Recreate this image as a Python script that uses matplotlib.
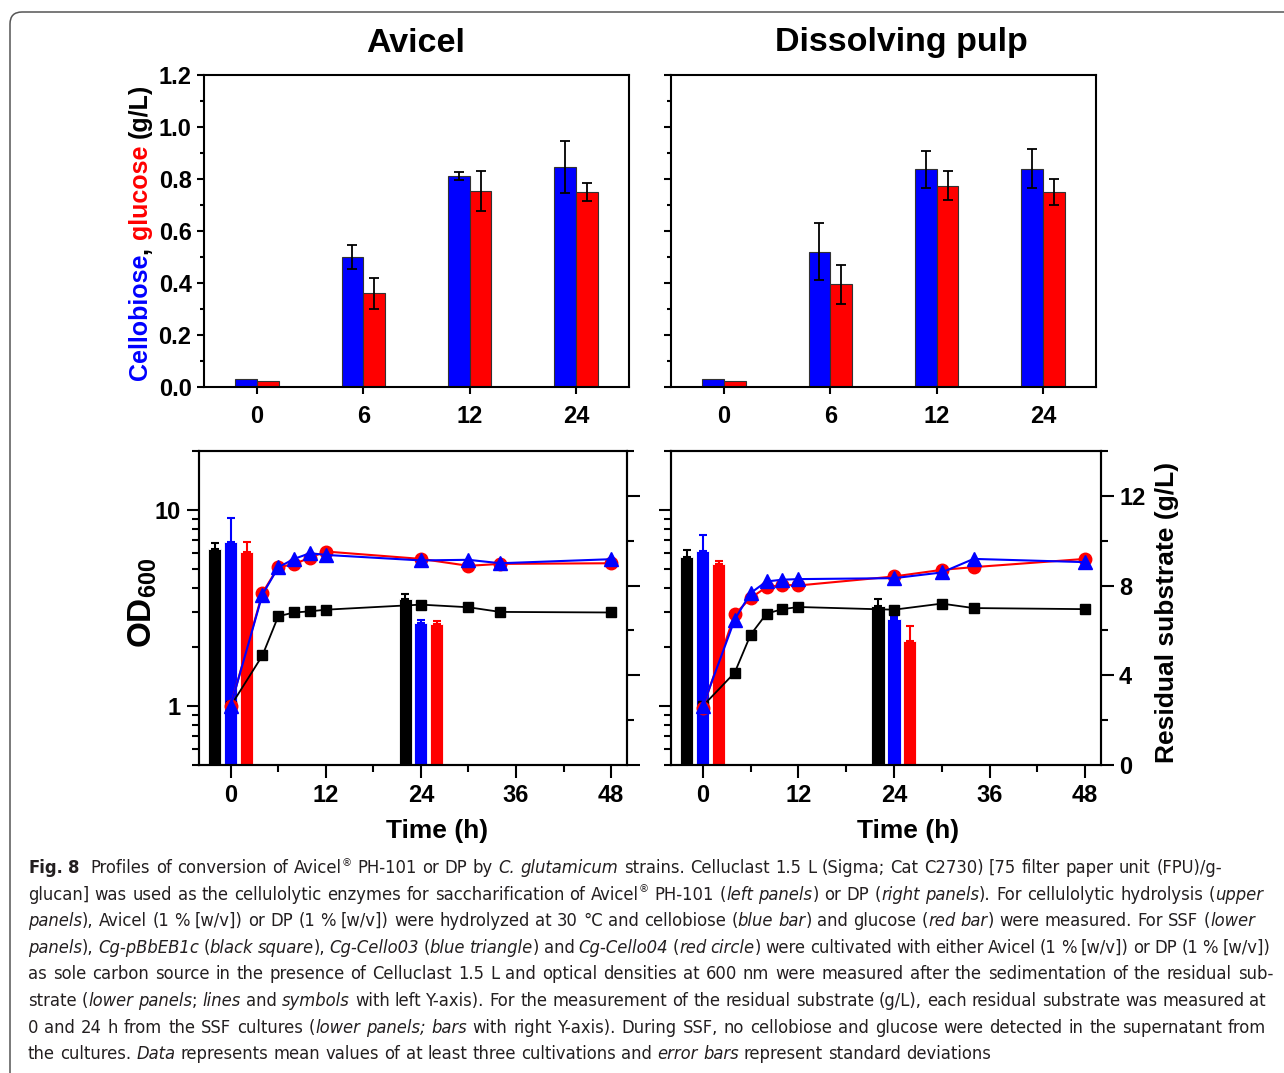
import numpy as np
import matplotlib
matplotlib.use('Agg')
import matplotlib.pyplot as plt
from matplotlib.patches import FancyBboxPatch
from matplotlib.transforms import IdentityTransform
from matplotlib.ticker import (FixedLocator, LogLocator, NullFormatter,
                               MultipleLocator, FormatStrFormatter, FuncFormatter)

W, H = 1284, 1073

# upper panels: enzymatic hydrolysis (g/L)
hyd_times = ['0', '6', '12', '24']
avicel_cellobiose = [0.031, 0.50, 0.813, 0.847]
avicel_cellobiose_sd = [0.0, 0.045, 0.015, 0.099]
avicel_glucose = [0.022, 0.36, 0.754, 0.75]
avicel_glucose_sd = [0.0, 0.06, 0.078, 0.033]
dp_cellobiose = [0.032, 0.521, 0.838, 0.84]
dp_cellobiose_sd = [0.0, 0.11, 0.071, 0.076]
dp_glucose = [0.022, 0.395, 0.775, 0.75]
dp_glucose_sd = [0.0, 0.076, 0.057, 0.049]

# lower panels: SSF growth (OD600)
ssf_time = [0, 4, 6, 8, 10, 12, 24, 30, 34, 48]
avicel_pbb = [1.0, 1.81, 2.87, 3.0, 3.04, 3.10, 3.29, 3.19, 3.02, 3.0]
avicel_cello03 = [1.0, 3.70, 5.10, 5.63, 6.02, 5.90, 5.53, 5.57, 5.35, 5.61]
avicel_cello04 = [1.0, 3.77, 5.11, 5.29, 5.72, 6.14, 5.63, 5.19, 5.31, 5.35]
dp_pbb = [1.0, 1.48, 2.31, 2.96, 3.12, 3.20, 3.10, 3.33, 3.16, 3.12]
dp_cello03 = [1.0, 2.76, 3.77, 4.32, 4.41, 4.44, 4.49, 4.80, 5.63, 5.42]
dp_cello04 = [0.98, 2.93, 3.56, 4.04, 4.15, 4.12, 4.58, 4.95, 5.11, 5.63]

# residual substrate (g/L), sampled at 0 and 24 h
res_time = [0, 24]
avicel_res_pbb = [9.63, 7.38]
avicel_res_pbb_sd = [0.25, 0.25]
avicel_res_cello03 = [9.93, 6.33]
avicel_res_cello03_sd = [1.1, 0.15]
avicel_res_cello04 = [9.48, 6.30]
avicel_res_cello04_sd = [0.47, 0.14]
dp_res_pbb = [9.29, 7.08]
dp_res_pbb_sd = [0.3, 0.3]
dp_res_cello03 = [9.56, 6.52]
dp_res_cello03_sd = [0.71, 0.1]
dp_res_cello04 = [8.96, 5.51]
dp_res_cello04_sd = [0.15, 0.67]

caption = [
    [('Fig. 8', 'b'), ('  Profiles of conversion of Avicel', 'n'), ('®', 's'),
     (' PH-101 or DP by ', 'n'), ('C. glutamicum', 'i'),
     (' strains. Celluclast 1.5 L (Sigma; Cat C2730) [75 filter paper unit (FPU)/g-', 'n')],
    [('glucan] was used as the cellulolytic enzymes for saccharification of Avicel', 'n'), ('®', 's'),
     (' PH-101 (', 'n'), ('left panels', 'i'), (') or DP (', 'n'), ('right panels', 'i'),
     ('). For cellulolytic hydrolysis (', 'n'), ('upper', 'i')],
    [('panels', 'i'), ('), Avicel (1 % [w/v]) or DP (1 % [w/v]) were hydrolyzed at 30 °C and cellobiose (', 'n'),
     ('blue bar', 'i'), (') and glucose (', 'n'), ('red bar', 'i'), (') were measured. For SSF (', 'n'),
     ('lower', 'i')],
    [('panels', 'i'), ('), ', 'n'), ('Cg-pBbEB1c', 'i'), (' (', 'n'), ('black square', 'i'), ('), ', 'n'),
     ('Cg-Cello03', 'i'), (' (', 'n'), ('blue triangle', 'i'), (') and ', 'n'), ('Cg-Cello04', 'i'),
     (' (', 'n'), ('red circle', 'i'),
     (') were cultivated with either Avicel (1 % [w/v]) or DP (1 % [w/v])', 'n')],
    [('as sole carbon source in the presence of Celluclast 1.5 L and optical densities at 600 nm were '
      'measured after the sedimentation of the residual sub-', 'n')],
    [('strate (', 'n'), ('lower panels', 'i'), ('; ', 'n'), ('lines', 'i'), (' and ', 'n'), ('symbols', 'i'),
     (' with left Y-axis). For the measurement of the residual substrate (g/L), each residual substrate '
      'was measured at', 'n')],
    [('0 and 24 h from the SSF cultures (', 'n'), ('lower panels; bars', 'i'),
     (' with right Y-axis). During SSF, no cellobiose and glucose were detected in the supernatant from', 'n')],
    [('the cultures. ', 'n'), ('Data', 'i'), (' represents mean values of at least three cultivations and ', 'n'),
     ('error bars', 'i'), (' represent standard deviations', 'n')],
]
caption_right = [1222, 1263, 1255, 1270, 1273, 1266, 1266, None]

BLUE = '#0000ff'
RED = '#ff0000'

plt.rcParams['font.family'] = ['Liberation Sans', 'DejaVu Sans']
plt.rcParams['font.weight'] = 'bold'
plt.rcParams['mathtext.fontset'] = 'custom'
plt.rcParams['mathtext.bf'] = 'Liberation Sans:bold'
plt.rcParams['mathtext.rm'] = 'Liberation Sans:bold'
plt.rcParams['axes.linewidth'] = 1.5

fig = plt.figure(figsize=(W / 100, H / 100), dpi=100)
renderer = fig.canvas.get_renderer()


def rect(left, top, right, bottom):
    return [left / W, 1 - bottom / H, (right - left) / W, (bottom - top) / H]


def adv(s, **kw):
    # pen advance of s, measured between two bars so spaces count
    a = fig.text(0, 0, '|' + s + '|', **kw)
    b = fig.text(0, 0, '||', **kw)
    w = a.get_window_extent(renderer).width - b.get_window_extent(renderer).width
    a.remove()
    b.remove()
    return w


def hydrolysis_panel(ax, cello, cello_sd, gluc, gluc_sd, labels):
    x = np.arange(len(hyd_times))
    bw = 0.205
    ax.bar(x - bw / 2, cello, bw, color=BLUE, edgecolor='#333333', linewidth=0.8)
    ax.bar(x + bw / 2, gluc, bw, color=RED, edgecolor='#333333', linewidth=0.8)
    for xs, v, e in ((x - bw / 2, cello, cello_sd), (x + bw / 2, gluc, gluc_sd)):
        m = np.array(e) > 0
        ax.errorbar(xs[m], np.array(v)[m], yerr=np.array(e)[m], fmt='none',
                    ecolor='black', elinewidth=1.3, capsize=3.5, capthick=1.3)
    ax.set_xlim(-0.5, 3.5)
    ax.set_ylim(0, 1.2)
    ax.set_xticks(x)
    ax.set_xticklabels(hyd_times)
    ax.yaxis.set_major_locator(MultipleLocator(0.2))
    ax.yaxis.set_minor_locator(MultipleLocator(0.1))
    ax.yaxis.set_major_formatter(FormatStrFormatter('%.1f'))
    ax.tick_params(which='major', direction='out', length=5, width=1.5, labelsize=17)
    ax.tick_params(axis='y', which='minor', direction='out', length=3, width=1.5)
    ax.tick_params(axis='x', pad=8)
    ax.tick_params(axis='y', pad=4, labelleft=labels)


def ssf_panel(ax, pbb, c03, c04, res, left_labels, right_labels):
    ax2 = ax.twinx()
    t = np.array(res_time)
    for off, (vals, sd), col in zip((-2, 0, 2), res, ('black', BLUE, RED)):
        ax2.bar(t + off, vals, 1.65, color=col, edgecolor='white', linewidth=0.6)
        ax2.errorbar(t + off, vals, yerr=[np.zeros(len(vals)), sd], fmt='none',
                     ecolor=col, elinewidth=1.5, capsize=3, capthick=1.5)
    ax.plot(ssf_time, pbb, '-s', color='black', ms=7.5, lw=1.3)
    ax.plot(ssf_time, c04, '-o', color=RED, ms=9, lw=1.5)
    ax.plot(ssf_time, c03, '-^', color=BLUE, ms=10.5, lw=1.5)
    ax.set_zorder(ax2.get_zorder() + 1)
    ax.patch.set_visible(False)

    ax.set_yscale('log')
    ax.set_ylim(0.5, 20)
    ax.set_xlim(-4, 50)
    ax.yaxis.set_major_locator(FixedLocator([1, 10]))
    ax.yaxis.set_major_formatter(FuncFormatter(lambda v, p: f'{v:g}'))
    ax.yaxis.set_minor_locator(LogLocator(base=10, subs=np.arange(2, 10)))
    ax.yaxis.set_minor_formatter(NullFormatter())
    ax.set_xticks([0, 12, 24, 36, 48])
    ax.set_xticks([6, 18, 30, 42], minor=True)
    ax.tick_params(which='major', direction='out', length=9, width=1.5, labelsize=17)
    ax.tick_params(which='minor', direction='out', length=5, width=1.5)
    ax.tick_params(axis='x', pad=5)
    ax.tick_params(axis='y', pad=4, labelleft=left_labels)

    ax2.set_ylim(0, 14)
    ax2.yaxis.set_major_locator(MultipleLocator(4))
    ax2.yaxis.set_minor_locator(MultipleLocator(2))
    ax2.tick_params(which='major', direction='out', length=9, width=1.5, labelsize=17, pad=4)
    ax2.tick_params(which='minor', direction='out', length=5, width=1.5)
    ax2.tick_params(axis='y', labelright=right_labels)


ax_ul = fig.add_axes(rect(204, 75, 629, 387))
ax_ur = fig.add_axes(rect(671, 75, 1096, 387))
ax_ll = fig.add_axes(rect(199, 451, 627, 765))
ax_lr = fig.add_axes(rect(671, 451, 1101, 765))

hydrolysis_panel(ax_ul, avicel_cellobiose, avicel_cellobiose_sd, avicel_glucose, avicel_glucose_sd, True)
hydrolysis_panel(ax_ur, dp_cellobiose, dp_cellobiose_sd, dp_glucose, dp_glucose_sd, False)

ssf_panel(ax_ll, avicel_pbb, avicel_cello03, avicel_cello04,
          [(avicel_res_pbb, avicel_res_pbb_sd), (avicel_res_cello03, avicel_res_cello03_sd),
           (avicel_res_cello04, avicel_res_cello04_sd)], True, False)
ssf_panel(ax_lr, dp_pbb, dp_cello03, dp_cello04,
          [(dp_res_pbb, dp_res_pbb_sd), (dp_res_cello03, dp_res_cello03_sd),
           (dp_res_cello04, dp_res_cello04_sd)], False, True)

# titles and axis labels
fig.text(416 / W, 1 - 43 / H, 'Avicel', ha='center', va='center', fontsize=24.5)
fig.text(901 / W, 1 - 43 / H, 'Dissolving pulp', ha='center', va='center', fontsize=24.5)
fig.text(437 / W, 1 - 831 / H, 'Time (h)', ha='center', va='center', fontsize=19)
fig.text(908 / W, 1 - 831 / H, 'Time (h)', ha='center', va='center', fontsize=19)
fig.text(1167 / W, 1 - 612 / H, 'Residual substrate (g/L)', ha='center', va='center',
         rotation=90, fontsize=19)
fig.text(143 / W, 1 - 603 / H, r'$\mathbf{OD}_{\mathbf{600}}$', ha='center', va='center',
         rotation=90, fontsize=24)

# two-coloured y label of the upper panels
lab_parts = [('Cellobiose', BLUE), (',', 'black'), ('glucose', RED), ('(g/L)', 'black')]
full = 'Cellobiose, glucose (g/L)'
lab_size = 18
pos = 0
for text, col in lab_parts:
    i = full.index(text, pos)
    off = adv(full[:i], fontsize=lab_size)
    pos = i + len(text)
    fig.text(147 / W, 1 - (380 - off) / H, text, color=col, fontsize=lab_size,
             rotation=90, rotation_mode='anchor', ha='left', va='baseline')

# rounded frame
frame = FancyBboxPatch((10, -30), W + 40, H + 30 - 12, boxstyle='round,pad=0,rounding_size=12',
                       transform=IdentityTransform(), facecolor='none', edgecolor='#555555', linewidth=1.1)
fig.add_artist(frame)

# caption, condensed sans with justified lines
cap_font, cap_stretch = 'DejaVu Sans', 'condensed'


def cap_props(style, size):
    p = dict(family=cap_font, stretch=cap_stretch, color='#231f20', fontsize=size,
             weight='bold' if style == 'b' else 'normal',
             style='italic' if style == 'i' else 'normal')
    if style == 's':
        p['fontsize'] = size * 0.62
    return p


def cap_tokens(line):
    out = []
    for text, style in line:
        for i, word in enumerate(text.split(' ')):
            if i > 0:
                out.append((None, style))
            if word:
                out.append((word, style))
    return out


def line_width(line, size):
    sp = adv(' ', **cap_props('n', size))
    tot, nsp = 0.0, 0
    for word, style in cap_tokens(line):
        if word is None:
            tot += sp
            nsp += 1
        else:
            tot += adv(word, **cap_props(style, size))
    return tot, nsp, sp


x0 = 28
w1, _, _ = line_width(caption[0], 14)
cap_size = 14 * (caption_right[0] - x0) / w1

for k, line in enumerate(caption):
    yb = 873 + 26.6 * k
    nat, nsp, sp = line_width(line, cap_size)
    extra = 0.0
    if caption_right[k] is not None and nsp:
        extra = (caption_right[k] - x0 - nat) / nsp
    pen = x0
    for word, style in cap_tokens(line):
        if word is None:
            pen += sp + extra
            continue
        y = yb
        if style == 's':
            y = yb - 0.4 * cap_size * 100 / 72
        fig.text(pen / W, 1 - y / H, word, ha='left', va='baseline', **cap_props(style, cap_size))
        pen += adv(word, **cap_props(style, cap_size))

fig.savefig('out.png', dpi=100)
